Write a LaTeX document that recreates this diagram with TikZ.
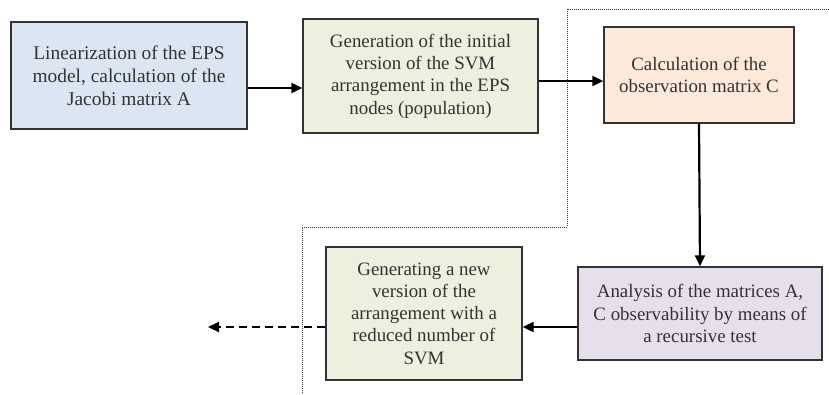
\documentclass[tikz,border=0pt]{standalone}
\usepackage{fontspec}
\setmainfont{Liberation Serif}
\usetikzlibrary{arrows.meta}
\definecolor{fillblue}{HTML}{DCE6F2}
\definecolor{fillgreen}{HTML}{EBF1DE}
\definecolor{fillorange}{HTML}{FDE9D9}
\definecolor{fillpurple}{HTML}{E5E0EC}
\definecolor{boxline}{HTML}{333333}
\definecolor{txt}{HTML}{333333}
\begin{document}
\begin{tikzpicture}[x=1pt,y=-1pt,
  stepbox/.style={draw=boxline, line width=1.4pt, rectangle, align=center,
    inner sep=0pt, text=txt,
    font=\fontsize{18.9}{22.3}\selectfont},
  arr/.style={line width=2.2pt, -{Triangle[length=11pt,width=10pt]}},
  dasharr/.style={arr, dash pattern=on 8pt off 5pt},
  border/.style={line width=1pt, densely dotted, boxline}
]
\useasboundingbox (0,0) rectangle (829,394);

% process blocks
\node[stepbox, fill=fillblue, minimum width=236pt, minimum height=107pt,
  font=\fontsize{19.4}{22.8}\selectfont]
  (lin) at (129,75.5) {Linearization of the EPS\\model, calculation of the\\Jacobi matrix A};
\node[stepbox, fill=fillgreen, minimum width=235pt, minimum height=114pt]
  (gen) at (420.5,76) {Generation of the initial\\version of the SVM\\arrangement in the EPS\\nodes (population)};
\node[stepbox, fill=fillorange, minimum width=190pt, minimum height=96pt]
  (obs) at (699,75) {Calculation of the\\observation matrix C};
\node[stepbox, fill=fillpurple, minimum width=244pt, minimum height=93pt]
  (ana) at (700,313.5) {Analysis of the matrices A,\\C observability by means of\\a recursive test};
\node[stepbox, fill=fillgreen, minimum width=196pt, minimum height=133pt]
  (newv) at (424,313.5) {Generating a new\\version of the\\arrangement with a\\reduced number of\\SVM};

% dotted boundary
\coordinate (bTR) at (829,9);
\coordinate (bTL) at (567,9);
\coordinate (bMR) at (567,227);
\coordinate (bML) at (302,227);
\coordinate (bB) at (302,394);
\draw[border] (bTR) -- (bTL) -- (bMR) -- (bML) -- (bB);

% connectors
\coordinate (out) at (208,327);
\draw[arr] ([yshift=-12.5pt]lin.east) -- ([yshift=-12pt]gen.west);
\draw[arr] ([yshift=-5pt]gen.east) -- ([yshift=-6pt]obs.west);
\draw[arr] (obs.south) -- (ana.north);
\draw[arr] ([yshift=-13.5pt]ana.west) -- ([yshift=-13.5pt]newv.east);
\draw[dasharr] ([yshift=-13.5pt]newv.west) -- (out);
\end{tikzpicture}
\end{document}
